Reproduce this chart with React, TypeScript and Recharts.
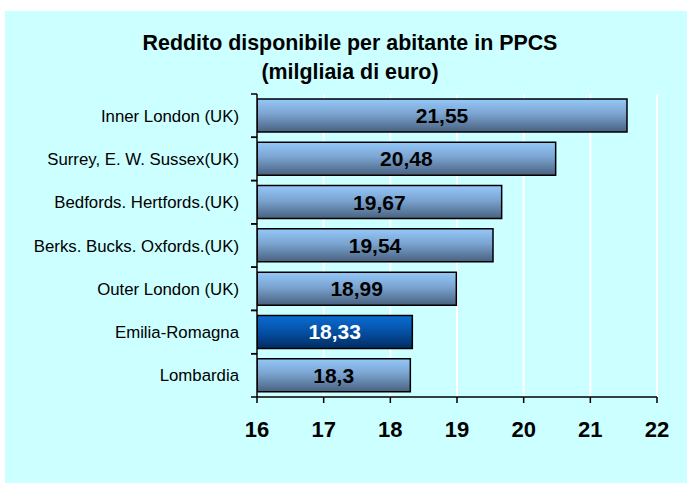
import { BarChart, Bar, XAxis, YAxis, CartesianGrid, LabelList, Cell } from "recharts";

const regions = [
  "Inner London (UK)",
  "Surrey, E. W. Sussex(UK)",
  "Bedfords. Hertfords.(UK)",
  "Berks. Bucks. Oxfords.(UK)",
  "Outer London (UK)",
  "Emilia-Romagna",
  "Lombardia",
];
const redditi = [21.55, 20.48, 19.67, 19.54, 18.99, 18.33, 18.3];
const xTicks = [16, 17, 18, 19, 20, 21, 22];
const highlight = "Emilia-Romagna";

const data = regions.map((r, i) => ({ region: r, value: redditi[i] }));

const W = 682;
const H = 472;
const margin = { top: 83, right: 30, bottom: 36, left: 0 };
const band = (H - margin.top - margin.bottom - 50) / regions.length;

const font = "'Liberation Sans', Arial, sans-serif";

function RegionTick(props: any) {
  const { x, y, payload } = props;
  const axisX = x + 18;
  return (
    <g>
      <line x1={axisX - 6} x2={axisX} y1={y - band / 2} y2={y - band / 2} stroke="#000" strokeWidth={1.5} />
      <line x1={axisX - 6} x2={axisX} y1={y + band / 2} y2={y + band / 2} stroke="#000" strokeWidth={1.5} />
      <text x={x} y={y} dy={6} textAnchor="end" fontSize={16.8} fontFamily={font} fill="#000">
        {payload.value}
      </text>
    </g>
  );
}

function ValueLabel(props: any) {
  const { x, y, width, height, value, index } = props;
  const white = regions[index] === highlight;
  return (
    <text
      x={x + width / 2}
      y={y + height / 2}
      dy={7.5}
      textAnchor="middle"
      fontSize={21}
      fontWeight="bold"
      fontFamily={font}
      fill={white ? "#fff" : "#000"}
    >
      {String(value).replace(".", ",")}
    </text>
  );
}

export default function App() {
  return (
    <div style={{ position: "absolute", left: 0, top: 0, width: 687, height: 484, background: "#fff" }}>
      <div style={{ position: "absolute", left: 5, top: 11, width: W, height: H, background: "#CCFFFF" }}>
        <div
          style={{
            position: "absolute",
            left: 0,
            top: 18,
            width: 690,
            textAlign: "center",
            fontFamily: font,
            fontWeight: "bold",
            fontSize: 21.4,
            lineHeight: "29px",
            color: "#000",
          }}
        >
          Reddito disponibile per abitante in PPCS
          <br />
          (milgliaia di euro)
        </div>
        <BarChart
          width={W}
          height={H}
          data={data}
          layout="vertical"
          margin={margin}
          barSize={33}
        >
          <defs>
            <linearGradient id="gBlue" x1="0" y1="0" x2="0" y2="1">
              <stop offset="0%" stopColor="#94C8FA" />
              <stop offset="45%" stopColor="#7BA4D0" />
              <stop offset="100%" stopColor="#48617F" />
            </linearGradient>
            <linearGradient id="gDark" x1="0" y1="0" x2="0" y2="1">
              <stop offset="0%" stopColor="#0B6DD3" />
              <stop offset="50%" stopColor="#0450A4" />
              <stop offset="100%" stopColor="#022C62" />
            </linearGradient>
          </defs>
          <CartesianGrid horizontal={false} stroke="#fff" strokeWidth={2} />
          <XAxis
            type="number"
            domain={[16, 22]}
            ticks={xTicks}
            allowDataOverflow
            height={50}
            tickSize={6}
            tickMargin={18}
            axisLine={{ stroke: "#000", strokeWidth: 1.5 }}
            tickLine={{ stroke: "#000", strokeWidth: 1.5 }}
            tick={{ fontSize: 22, fontWeight: "bold", fill: "#000", fontFamily: font }}
          />
          <YAxis
            type="category"
            dataKey="region"
            width={252}
            tickLine={false}
            tickSize={0}
            tickMargin={18}
            axisLine={{ stroke: "#000", strokeWidth: 1.5 }}
            tick={<RegionTick />}
            interval={0}
          />
          <Bar dataKey="value" isAnimationActive={false} stroke="#000" strokeWidth={1.5}>
            {data.map((d) => (
              <Cell key={d.region} fill={d.region === highlight ? "url(#gDark)" : "url(#gBlue)"} />
            ))}
            <LabelList dataKey="value" content={<ValueLabel />} />
          </Bar>
        </BarChart>
      </div>
    </div>
  );
}
